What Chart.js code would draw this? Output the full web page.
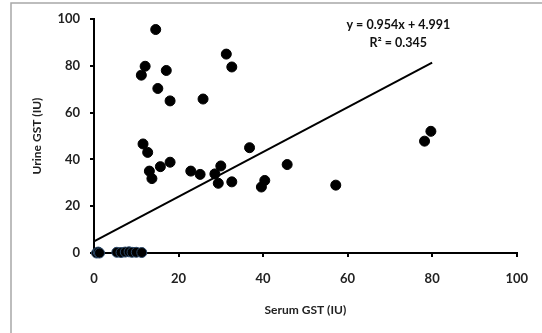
<!DOCTYPE html>
<html>
<head>
<meta charset="utf-8">
<script src="https://cdn.jsdelivr.net/npm/chart.js@4/dist/chart.umd.min.js"></script>
<style>
  html, body { margin: 0; padding: 0; background: #fff; }
  #wrap { position: relative; width: 542px; height: 333px; }
</style>
</head>
<body>
<div id="wrap"><canvas id="gstChart" width="542" height="333"></canvas></div>
<script>
// serum vs urine GST values
const serumGST = [
    14.6, 11.2, 12.1, 17.1, 15.1, 18.0, 25.8, 31.3, 32.6,
    11.6, 12.7, 13.1, 13.7, 15.7, 18.0, 22.9, 25.1, 30.0, 28.6, 29.4, 32.6, 36.8,
    45.7, 40.4, 39.6, 57.2, 79.7, 78.2,
    0.6, 1.0, 1.3, 5.4, 6.4, 7.4, 8.3, 9.0, 10.0, 11.3
];
const urineGST = [
    95.5, 76.0, 79.8, 78.0, 70.3, 65.0, 65.8, 85.0, 79.5,
    46.6, 43.0, 35.0, 31.8, 36.9, 38.8, 35.0, 33.6, 37.2, 33.8, 29.8, 30.4, 45.0,
    37.8, 31.0, 28.2, 29.0, 52.0, 47.8,
    0, 0.4, 0, 0.3, 0.2, 0.4, 0.5, 0.3, 0.3, 0.2
];
const xTicks = [0, 20, 40, 60, 80, 100];
const yTicks = [0, 20, 40, 60, 80, 100];
const slope = 0.954;
const intercept = 4.991;
const rSquared = 0.345;
const fitRange = [0, 80];

const FONT = 'Lato, "Open Sans", sans-serif';

const points = serumGST.map((x, i) => ({ x: x, y: urineGST[i] }));
const fitLine = fitRange.map(x => ({ x: x, y: slope * x + intercept }));

// rahmen + gleichung
const extras = {
    id: 'extras',
    beforeDraw(chart) {
        const ctx = chart.ctx;
        ctx.save();
        ctx.fillStyle = '#fff';
        ctx.fillRect(0, 0, chart.width, chart.height);
        ctx.strokeStyle = '#a8a8a8';
        ctx.lineWidth = 1.5;
        ctx.strokeRect(11, 3, 540, 345);
        ctx.restore();
    },
    afterDatasetsDraw(chart) {
        const ctx = chart.ctx;
        const xs = chart.scales.x, ys = chart.scales.y;
        const cx = xs.getPixelForValue(72);
        const cy = ys.getPixelForValue(97.4);
        ctx.save();
        ctx.fillStyle = '#111';
        ctx.font = 'bold 12.5px ' + FONT;
        ctx.textAlign = 'center';
        ctx.textBaseline = 'middle';
        ctx.fillText('y = ' + slope.toFixed(3) + 'x + ' + intercept.toFixed(3), cx, cy);
        ctx.fillText('R² = ' + rSquared.toFixed(3), cx, cy + 18);
        ctx.restore();
    }
};

const ctx = document.getElementById('gstChart').getContext('2d');
new Chart(ctx, {
    type: 'scatter',
    data: {
        datasets: [
            {
                type: 'line',
                data: fitLine,
                borderColor: '#000',
                borderWidth: 2,
                pointRadius: 0,
                fill: false,
                order: 2
            },
            {
                data: points,
                backgroundColor: '#000',
                borderColor: ctx2 => (ctx2.raw && ctx2.raw.y < 1 ? '#2b4868' : '#000'),
                borderWidth: 1,
                pointRadius: 5,
                clip: false,
                order: 1
            }
        ]
    },
    options: {
        responsive: false,
        animation: false,
        layout: { padding: { left: 0, top: 19, right: 22, bottom: 0 } },
        plugins: {
            legend: { display: false },
            tooltip: { enabled: false }
        },
        scales: {
            x: {
                type: 'linear',
                min: 0,
                max: 100,
                afterBuildTicks: s => { s.ticks = xTicks.map(v => ({ value: v })); },
                afterFit: s => { s.height = 80; },
                border: { color: '#000', width: 2 },
                grid: { drawOnChartArea: false, color: '#000', lineWidth: 2, tickLength: 4 },
                ticks: { color: '#222', padding: 14, font: { family: FONT, size: 13, weight: 'bold' } },
                title: {
                    display: true,
                    text: 'Serum GST (IU)',
                    color: '#222',
                    font: { family: FONT, size: 12, weight: 'bold' },
                    padding: { top: 0, bottom: 16 }
                }
            },
            y: {
                type: 'linear',
                min: 0,
                max: 100,
                afterBuildTicks: s => { s.ticks = yTicks.map(v => ({ value: v })); },
                afterFit: s => { s.width = 94; },
                border: { color: '#000', width: 2 },
                grid: { drawOnChartArea: false, color: '#000', lineWidth: 2, tickLength: 4 },
                ticks: { color: '#222', padding: 10, font: { family: FONT, size: 13, weight: 'bold' } },
                title: {
                    display: true,
                    text: 'Urine GST (IU)',
                    color: '#222',
                    font: { family: FONT, size: 12, weight: 'bold' },
                    padding: { top: 30, bottom: 0 }
                }
            }
        }
    },
    plugins: [extras]
});
</script>
</body>
</html>
